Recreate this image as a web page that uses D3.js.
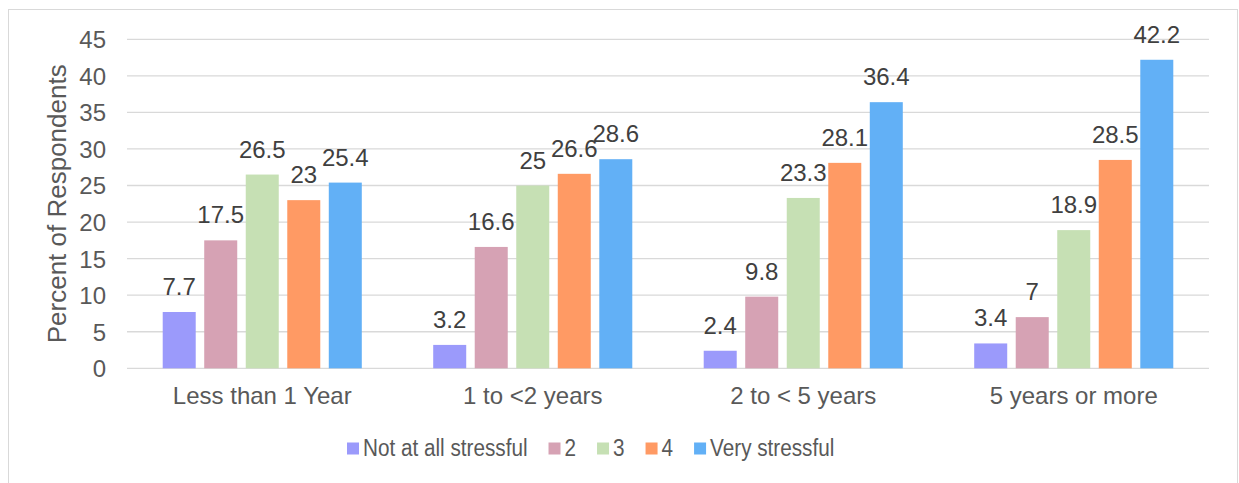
<!DOCTYPE html>
<html><head><meta charset="utf-8">
<script src="https://cdn.jsdelivr.net/npm/d3@7"></script>
<style>body{margin:0;background:#fff}svg{display:block}text{font-family:"Liberation Sans",Arial,sans-serif}</style>
</head><body><svg id="c" width="1239" height="483"></svg>
<script>
const categories = ["Less than 1 Year","1 to <2 years","2 to < 5 years","5 years or more"];
const seriesNames = ["Not at all stressful","2","3","4","Very stressful"];
const notAtAll = [7.7, 3.2, 2.4, 3.4];
const s2 = [17.5, 16.6, 9.8, 7];
const s3 = [26.5, 25, 23.3, 18.9];
const s4 = [23, 26.6, 28.1, 28.5];
const veryStressful = [25.4, 28.6, 36.4, 42.2];
const yTicks = [0,5,10,15,20,25,30,35,40,45];
const colors = ["#9B9AFB","#D6A2B4","#C6E0B4","#FF9A64","#62B0F6"];
const seriesValues = [notAtAll, s2, s3, s4, veryStressful];

const svg = d3.select("#c");
svg.append("rect").attr("x",8.5).attr("y",9.5).attr("width",1229).attr("height",490)
  .attr("fill","#fff").attr("stroke","#D9D9D9").attr("stroke-width",1);

const L=127, R=1209, T=39.3, B=368.3;
const x = d3.scaleBand().domain(categories).range([L,R]);
const xs = d3.scaleBand().domain(seriesNames).range([0, x.bandwidth()]).paddingInner(0.205).paddingOuter(0.86);
const y = d3.scaleLinear().domain([0,45]).range([B,T]);

// gridlines
svg.append("g").selectAll("line").data(yTicks).join("line")
  .attr("x1",L).attr("x2",R).attr("y1",d=>y(d)).attr("y2",d=>y(d))
  .attr("stroke","#D9D9D9").attr("stroke-width",1.3);

// y axis labels
const yAxis = d3.axisLeft(y).tickValues(yTicks).tickSize(0).tickPadding(0);
const ga = svg.append("g").attr("transform",`translate(106,0)`).call(yAxis);
ga.select(".domain").remove();
ga.selectAll("text").attr("fill","#595959").style("font-size","24px").attr("dy","0.35em");

// bars
seriesNames.forEach((s,si)=>{
  const g = svg.append("g");
  g.selectAll("rect").data(seriesValues[si]).join("rect")
    .attr("x",(d,i)=>x(categories[i])+xs(s)).attr("width",xs.bandwidth())
    .attr("y",d=>y(d)).attr("height",d=>B-y(d)).attr("fill",colors[si]);
});
seriesNames.forEach((s,si)=>{
  const g = svg.append("g");
  g.selectAll("text").data(seriesValues[si]).join("text")
    .attr("x",(d,i)=>x(categories[i])+xs(s)+xs.bandwidth()/2)
    .attr("y",d=>y(d)-17).attr("text-anchor","middle")
    .attr("fill","#404040").style("font-size","24px").text(d=>d);
});

// x axis
const xAxis = d3.axisBottom(x).tickSize(0).tickPadding(0);
const gx = svg.append("g").attr("transform",`translate(0,${B})`).call(xAxis);
gx.select(".domain").remove();
gx.selectAll("text").attr("fill","#595959").style("font-size","24px").attr("dy",null).attr("y",36);

// axis title
svg.append("text").attr("transform",`translate(66,${(T+B)/2}) rotate(-90)`)
  .attr("text-anchor","middle").attr("fill","#595959").style("font-size","26px").text("Percent of Respondents");

// legend
const lg = svg.append("g");
let lx = 347;
seriesNames.forEach((s,i)=>{
  lg.append("rect").attr("x",lx).attr("y",442.5).attr("width",12).attr("height",12).attr("fill",colors[i]);
  const t = lg.append("text").attr("x",lx+16).attr("y",456).attr("fill","#595959").style("font-size","23px").text(s);
  const w = t.node().getComputedTextLength()*0.9;
  t.attr("textLength",w).attr("lengthAdjust","spacingAndGlyphs");
  lx += 16 + w + 21;
});
</script></body></html>
